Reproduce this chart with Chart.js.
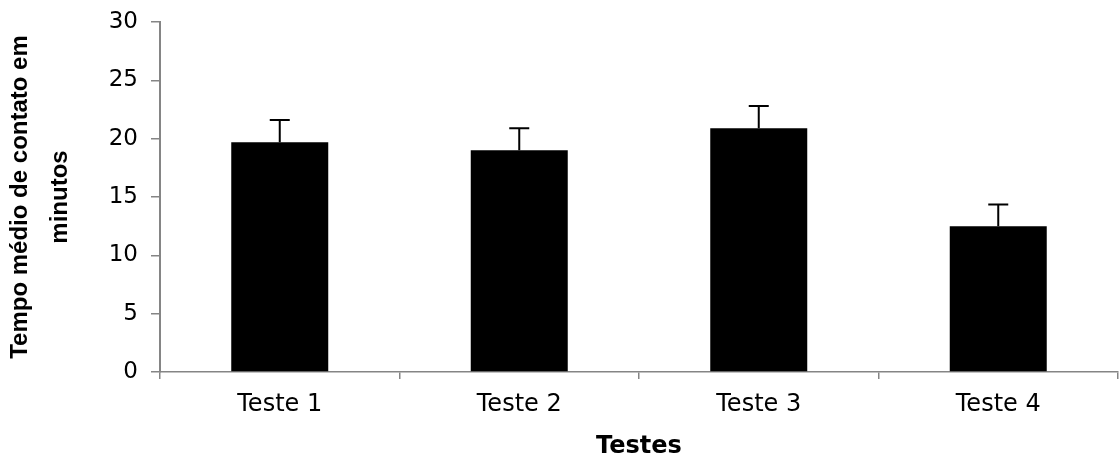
<!DOCTYPE html>
<html>
<head>
<meta charset="utf-8">
<script src="https://cdn.jsdelivr.net/npm/chart.js@4/dist/chart.umd.min.js"></script>
<style>
  html, body { margin: 0; padding: 0; background: #fff; }
  #wrap { width: 1120px; height: 461px; }
</style>
</head>
<body>
<div id="wrap"><canvas id="tempoChart" width="1120" height="461"></canvas></div>
<script>
// dados
const categorias = ['Teste 1', 'Teste 2', 'Teste 3', 'Teste 4'];
const tempoMedio = [19.7, 19.0, 20.9, 12.5];
const erroPadrao = [1.9, 1.9, 1.9, 1.85];
const yTicks = [0, 5, 10, 15, 20, 25, 30];

const axisGray = '#858585';

// desenha as barras de erro (só para cima)
const errorBars = {
    id: 'errorBars',
    afterDatasetsDraw(chart) {
        const ctx = chart.ctx;
        const yScale = chart.scales.y;
        const meta = chart.getDatasetMeta(0);
        ctx.save();
        ctx.strokeStyle = '#000';
        ctx.lineWidth = 2;
        meta.data.forEach(function (bar, i) {
            const yTop = yScale.getPixelForValue(tempoMedio[i] + erroPadrao[i]);
            const half = 10;
            ctx.beginPath();
            ctx.moveTo(bar.x, bar.y);
            ctx.lineTo(bar.x, yTop);
            ctx.moveTo(bar.x - half, yTop);
            ctx.lineTo(bar.x + half, yTop);
            ctx.stroke();
        });
        ctx.restore();
    }
};

const ctx = document.getElementById('tempoChart').getContext('2d');
const tempoChart = new Chart(ctx, {
    type: 'bar',
    data: {
        labels: categorias,
        datasets: [{
            data: tempoMedio,
            backgroundColor: '#000',
            borderWidth: 0,
            categoryPercentage: 1.0,
            barPercentage: 0.405
        }]
    },
    options: {
        responsive: false,
        animation: false,
        devicePixelRatio: 1,
        layout: {
            padding: { top: 22, right: 2, bottom: 0, left: 0 }
        },
        plugins: {
            legend: { display: false },
            tooltip: { enabled: false }
        },
        scales: {
            x: {
                grid: {
                    display: true,
                    offset: true,
                    drawOnChartArea: false,
                    drawTicks: true,
                    tickLength: 7,
                    color: axisGray,
                    lineWidth: 1.5
                },
                border: { color: axisGray, width: 1.5 },
                ticks: {
                    color: '#000',
                    padding: 11,
                    font: { family: 'DejaVu Sans', size: 24 }
                },
                title: {
                    display: true,
                    text: 'Testes',
                    color: '#000',
                    padding: { top: 8, bottom: 0 },
                    font: { family: 'DejaVu Sans', size: 24, weight: 'bold' }
                },
                afterFit: function (scale) {
                    scale.height = 89;
                    scale.paddingLeft = 0;
                    scale.paddingRight = 0;
                }
            },
            y: {
                min: 0,
                max: 30,
                grid: {
                    display: true,
                    drawOnChartArea: false,
                    drawTicks: true,
                    tickLength: 9,
                    color: axisGray,
                    lineWidth: 1.5
                },
                border: { color: axisGray, width: 2 },
                afterBuildTicks: function (scale) {
                    scale.ticks = yTicks.map(function (v) { return { value: v }; });
                },
                ticks: {
                    color: '#000',
                    padding: 13,
                    font: { family: 'DejaVu Sans', size: 23 }
                },
                title: {
                    display: true,
                    text: ['Tempo médio de contato em', 'minutos'],
                    color: '#000',
                    padding: { top: 0, bottom: 0 },
                    font: { family: 'Liberation Sans', size: 24, weight: 'bold', lineHeight: 1.67 }
                },
                afterFit: function (scale) {
                    scale.width = 160;
                    scale.paddingTop = 0;
                    scale.paddingBottom = 0;
                }
            }
        }
    },
    plugins: [errorBars]
});
</script>
</body>
</html>
